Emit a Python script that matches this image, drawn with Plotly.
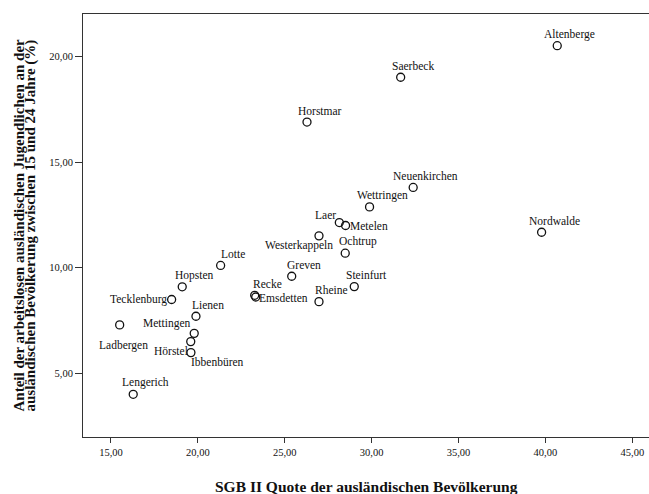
import plotly.graph_objects as go

# ─────────────────────────────────────────────
# Data (Kreis Steinfurt, Gemeinden)
# ─────────────────────────────────────────────

gemeinden = [
    "Altenberge", "Saerbeck", "Horstmar", "Neuenkirchen", "Wettringen",
    "Nordwalde", "Laer", "Metelen", "Westerkappeln", "Ochtrup",
    "Greven", "Steinfurt", "Recke", "Emsdetten", "Rheine",
    "Lotte", "Hopsten", "Tecklenburg", "Lienen", "Ladbergen",
    "Mettingen", "Ibbenbüren", "Hörstel", "Lengerich",
]
sgb2_quote = [
    40.68, 31.67, 26.28, 32.39, 29.88,
    39.78, 28.14, 28.50, 26.97, 28.48,
    25.40, 29.00, 23.27, 23.33, 26.97,
    21.31, 19.10, 18.49, 19.89, 15.50,
    19.79, 19.59, 19.60, 16.28,
]
jugend_al = [
    20.50, 19.01, 16.89, 13.80, 12.88,
    11.68, 12.14, 12.00, 11.51, 10.69,
    9.60, 9.11, 8.70, 8.62, 8.40,
    10.11, 9.10, 8.50, 7.71, 7.30,
    6.90, 6.51, 5.99, 4.02,
]

x_ticks = [15, 20, 25, 30, 35, 40, 45]
y_ticks = [5, 10, 15, 20]

# label placement (pixel offset of label centre from marker; + dy = down)
DEFAULT_OFFSET = (12.5, -11.5)
LABEL_OFFSET = {
    "Laer":          (-14, -8),
    "Metelen":       (23, 0),
    "Westerkappeln": (-20, 10),
    "Emsdetten":     (28, 1),
    "Tecklenburg":   (-33, 0),
    "Mettingen":     (-27, -10),
    "Ladbergen":     (4, 21),
    "Hörstel":       (-20, -1.5),
    "Ibbenbüren":    (27, 20),
}

SERIF = "Liberation Serif, Times New Roman, serif"
AXIS_COLOR = "#333333"


def fmt(v):
    return f"{v:.2f}".replace(".", ",")


fig = go.Figure(go.Scatter(
    x=sgb2_quote, y=jugend_al,
    mode="markers",
    marker=dict(symbol="circle-open", size=8, color="#111111",
                line=dict(width=1.3, color="#111111")),
    text=gemeinden,
    hoverinfo="text",
    showlegend=False,
))

for name, xv, yv in zip(gemeinden, sgb2_quote, jugend_al):
    dx, dy = LABEL_OFFSET.get(name, DEFAULT_OFFSET)
    fig.add_annotation(
        x=xv, y=yv, text=name, showarrow=False,
        xanchor="center", yanchor="middle",
        xshift=dx, yshift=-dy,
        font=dict(family=SERIF, size=11.5, color="#111111"),
    )

# axis titles
fig.add_annotation(
    xref="paper", yref="paper", x=0.5, y=0, yshift=-49,
    text="<b>SGB II Quote der ausländischen Bevölkerung</b>",
    showarrow=False, xanchor="center", yanchor="middle",
    font=dict(family=SERIF, size=15.5, color="#111111"),
)
fig.add_annotation(
    xref="paper", yref="paper", x=0, y=0.5, xshift=-65,
    text="<b>Anteil der arbeitslosen ausländischen Jugendlichen an der</b>",
    showarrow=False, textangle=-90, xanchor="center", yanchor="middle",
    font=dict(family=SERIF, size=15, color="#111111"),
)
fig.add_annotation(
    xref="paper", yref="paper", x=0, y=0.5, xshift=-53,
    text="<b>ausländischen Bevölkerung zwischen 15 und 24 Jahre (%)</b>",
    showarrow=False, textangle=-90, xanchor="center", yanchor="middle",
    font=dict(family=SERIF, size=15, color="#111111"),
)

fig.update_layout(
    width=649, height=494,
    margin=dict(l=83, r=0, t=14, b=57),
    plot_bgcolor="white",
    paper_bgcolor="white",
    xaxis=dict(
        range=[13.39, 45.96],
        tickvals=x_ticks, ticktext=[fmt(v) for v in x_ticks],
        ticks="outside", ticklen=5, tickwidth=1, tickcolor=AXIS_COLOR,
        showline=True, linecolor=AXIS_COLOR, linewidth=1, mirror=True,
        showgrid=False, zeroline=False,
        tickfont=dict(family=SERIF, size=10.5, color="#111111"),
    ),
    yaxis=dict(
        range=[2.0, 22.0],
        tickvals=y_ticks, ticktext=[fmt(v) for v in y_ticks],
        ticks="outside", ticklen=7, tickwidth=1, tickcolor=AXIS_COLOR,
        showline=True, linecolor=AXIS_COLOR, linewidth=1,
        showgrid=False, zeroline=False,
        tickfont=dict(family=SERIF, size=10.5, color="#111111"),
    ),
)

# page body has a default 8px margin; drop it so the figure sits at (0, 0)
fig.write_html("out.html", config={"displayModeBar": False},
               post_script="document.body.style.margin='0';")
